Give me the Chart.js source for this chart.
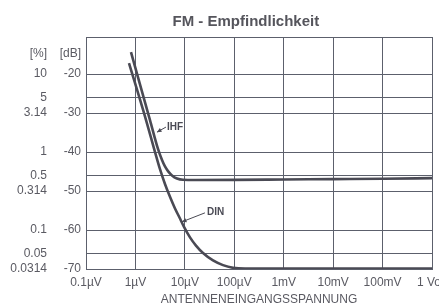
<!DOCTYPE html>
<html>
<head>
<meta charset="utf-8">
<script src="https://cdn.jsdelivr.net/npm/chart.js@4/dist/chart.umd.min.js"></script>
<style>
  html, body { margin: 0; padding: 0; background: #fff; }
  #wrap { width: 439px; height: 305px; }
</style>
</head>
<body>
<div id="wrap"><canvas id="fmChart"></canvas></div>
<script>
// x axis: antenna input voltage (V), log scale
const xTickValues = [1e-7, 1e-6, 1e-5, 1e-4, 1e-3, 1e-2, 1e-1, 1];
const xTickLabels = ['0.1µV', '1µV', '10µV', '100µV', '1mV', '10mV', '100mV', '1 Volt'];

// y axis: noise in dB, with matching percent column
const headerValue = -14.9;
const yTickValues = [-70, -66, -60, -50, -46, -40, -30, -26, -20, headerValue, -10.5];
const dbLabels = ['-70', '', '-60', '-50', '', '-40', '-30', '', '-20', '[dB]', ''];
const pctLabels = ['0.0314', '0.05', '0.1', '0.314', '0.5', '1', '3.14', '5', '10', '[%]', ''];

// curves
const ihfVolts = [8.13e-7, 1.97e-6, 2.86e-6, 3.45e-6, 3.96e-6, 4.56e-6, 5.49e-6, 6.93e-6, 9.17e-6, 1.6e-5, 1e-4, 1e-3, 1e-2, 1e-1, 1];
const ihfDb = [-14.4, -31.8, -39.2, -42.05, -43.7, -44.9, -46.0, -46.8, -47.13, -47.18, -47.15, -47.05, -46.95, -46.85, -46.7];
const dinVolts = [7.41e-7, 1.64e-6, 2.49e-6, 3.14e-6, 3.96e-6, 5.0e-6, 6.32e-6, 7.97e-6, 9.61e-6, 1.27e-5, 1.68e-5, 2.33e-5, 3.71e-5, 5.91e-5, 9.42e-5, 1.65e-4, 1e-3, 1e-2, 1e-1, 1];
const dinDb = [-17.2, -31.8, -40.0, -44.4, -48.2, -51.5, -54.5, -57.05, -59.2, -61.9, -64.0, -65.9, -67.8, -69.0, -69.7, -69.9, -69.9, -69.9, -69.9, -69.9];

// curve labels with pointer arrows (data units)
const noteTexts = ['IHF', 'DIN'];
const noteAt = [[4.35e-6, -33.6], [2.8e-5, -55.4]];
const noteFrom = [[4.15e-6, -33.6], [2.55e-5, -55.6]];
const noteTo = [[2.73e-6, -34.9], [8.75e-6, -57.9]];

const gridColor = '#5c606c';
const textColor = '#5a5a62';
const lineColor = '#4a4a54';
const font = { family: 'Liberation Sans, Arial, sans-serif', size: 12, lineHeight: 1 };

function toPoints(xs, ys) {
  return xs.map((x, i) => ({ x: x, y: ys[i] }));
}

const extras = {
  id: 'extras',
  afterDraw(chart) {
    const ctx = chart.ctx;
    const sx = chart.scales.x;
    const sy = chart.scales.y;
    ctx.save();
    // title
    ctx.fillStyle = '#55555c';
    ctx.font = 'bold 15px Liberation Sans, Arial, sans-serif';
    ctx.textAlign = 'center';
    ctx.textBaseline = 'middle';
    ctx.fillText('FM - Empfindlichkeit', chart.width * 0.56, 22);

    // curve labels
    ctx.font = 'bold 10px Liberation Sans, Arial, sans-serif';
    ctx.textAlign = 'left';
    ctx.strokeStyle = lineColor;
    ctx.fillStyle = lineColor;
    ctx.lineWidth = 1;
    noteTexts.forEach((t, i) => {
      ctx.fillText(t, sx.getPixelForValue(noteAt[i][0]), sy.getPixelForValue(noteAt[i][1]));
      const x1 = sx.getPixelForValue(noteFrom[i][0]);
      const y1 = sy.getPixelForValue(noteFrom[i][1]);
      const x2 = sx.getPixelForValue(noteTo[i][0]);
      const y2 = sy.getPixelForValue(noteTo[i][1]);
      ctx.beginPath();
      ctx.moveTo(x1, y1);
      ctx.lineTo(x2, y2);
      ctx.stroke();
      const a = Math.atan2(y2 - y1, x2 - x1);
      ctx.beginPath();
      ctx.moveTo(x2, y2);
      ctx.lineTo(x2 - 5 * Math.cos(a - 0.45), y2 - 5 * Math.sin(a - 0.45));
      ctx.lineTo(x2 - 5 * Math.cos(a + 0.45), y2 - 5 * Math.sin(a + 0.45));
      ctx.closePath();
      ctx.fill();
    });
    ctx.restore();
  }
};

const yTicks = s => { s.ticks = yTickValues.map(v => ({ value: v })); };

new Chart(document.getElementById('fmChart'), {
  type: 'line',
  data: {
    datasets: [{
      label: 'IHF',
      data: toPoints(ihfVolts, ihfDb),
      borderColor: lineColor,
      borderWidth: 2.6,
      pointRadius: 0,
      cubicInterpolationMode: 'monotone',
      fill: false
    }, {
      label: 'DIN',
      data: toPoints(dinVolts, dinDb),
      borderColor: lineColor,
      borderWidth: 2.6,
      pointRadius: 0,
      cubicInterpolationMode: 'monotone',
      fill: false
    }]
  },
  options: {
    responsive: true,
    maintainAspectRatio: false,
    animation: false,
    layout: { padding: { top: 37, right: 7, left: 0, bottom: 0 } },
    plugins: { legend: { display: false }, tooltip: { enabled: false }, title: { display: false } },
    scales: {
      x: {
        type: 'logarithmic',
        min: 1e-7,
        max: 1,
        afterBuildTicks: s => { s.ticks = xTickValues.map(v => ({ value: v })); },
        afterFit: s => { s.height = 36; s.paddingLeft = 0; s.paddingRight = 0; },
        grid: { color: gridColor, lineWidth: 1, drawTicks: false },
        border: { color: gridColor },
        ticks: {
          padding: 8,
          autoSkip: false,
          maxRotation: 0,
          color: textColor,
          font: font,
          callback: (v, i) => xTickLabels[i]
        },
        title: {
          display: true,
          text: 'ANTENNENEINGANGSSPANNUNG',
          color: textColor,
          font: font,
          padding: { top: 5, bottom: -1 }
        }
      },
      y: {
        type: 'linear',
        position: 'left',
        weight: 0,
        min: -70,
        max: -10.5,
        afterBuildTicks: yTicks,
        afterFit: s => { s.width = 37; s.paddingTop = 0; s.paddingBottom = 0; },
        grid: {
          color: c => (c.tick && c.tick.value === headerValue) ? 'rgba(0,0,0,0)' : gridColor,
          lineWidth: 1,
          drawTicks: false
        },
        border: { color: gridColor },
        ticks: { padding: 5, autoSkip: false, color: textColor, font: font, callback: (v, i) => dbLabels[i] }
      },
      pct: {
        type: 'linear',
        position: 'left',
        weight: 1,
        min: -70,
        max: -10.5,
        afterBuildTicks: yTicks,
        afterFit: s => { s.width = 49; s.paddingTop = 0; s.paddingBottom = 0; },
        grid: { display: false, drawTicks: false },
        border: { display: false },
        ticks: { padding: 2, autoSkip: false, color: textColor, font: font, callback: (v, i) => pctLabels[i] }
      }
    }
  },
  plugins: [extras]
});
</script>
</body>
</html>
